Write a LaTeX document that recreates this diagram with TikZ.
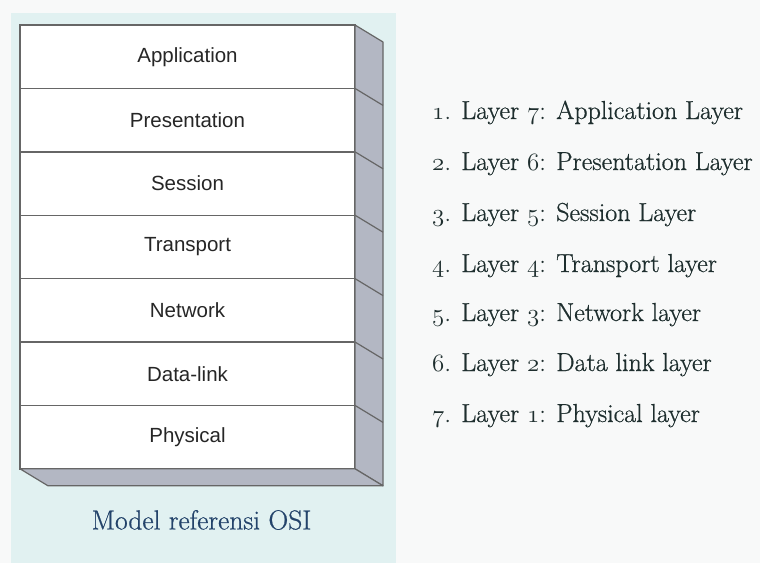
\documentclass[tikz,border=0pt]{standalone}
\usepackage{fontspec}
\newfontfamily\boxfont{Liberation Sans}
\newfontfamily\listfont{Latin Modern Roman}[FakeBold=0.7]
\usetikzlibrary{positioning,calc}
\definecolor{pagebg}{HTML}{F8F9F9}
\definecolor{panelbg}{HTML}{E1F1F1}
\definecolor{sideface}{HTML}{B3B7C3}
\definecolor{edgegray}{HTML}{666666}
\definecolor{captionblue}{HTML}{23436A}
\definecolor{listtext}{HTML}{1E2E2E}
\newcommand\osn[1]{{\usefont{OML}{lmm}{m}{it}#1}}

\begin{document}
\begin{tikzpicture}[
    x=1pt, y=1pt,
    layerbox/.style={
        draw=edgegray, % grey frame round each layer
        line width=1.4pt,
        fill=white,
        minimum width=335pt,
        minimum height=63.4pt,
        inner sep=0pt, outer sep=0pt,
        text=black!85,
        font=\boxfont\fontsize{20.5}{24}\selectfont
    },
    listitem/.style={
        anchor=base west,
        inner sep=0pt,
        text=listtext,
        font=\listfont\fontsize{26}{30}\selectfont
    },
    depth/.style={fill=sideface, draw=edgegray, line width=1.2pt, line join=round}
]
% background and panel
\fill[pagebg] (0,0) rectangle (760,-563);
\fill[panelbg] (11,-13) rectangle (396,-563);

% the stack of layers
\node[layerbox] (app) at (187.5,-56.7) {Application};
\node[layerbox, below=0pt of app] (pre) {Presentation};
\node[layerbox, below=0pt of pre] (ses) {Session};
\node[layerbox, below=0pt of ses] (tra) {Transport};
\node[layerbox, below=0pt of tra] (net) {Network};
\node[layerbox, below=0pt of net] (dat) {Data-link};
\node[layerbox, below=0pt of dat] (phy) {Physical};

% side and bottom faces
\draw[depth] (app.north east) -- ++(28,-17) -- ($(phy.south east)+(28,-17)$)
    -- (phy.south east) -- cycle;
\draw[depth] (phy.south west) -- ++(28,-17) -- ($(phy.south east)+(28,-17)$)
    -- (phy.south east) -- cycle;
\foreach \n in {app,pre,ses,tra,net,dat}
    \draw[edgegray, line width=1.2pt] (\n.south east) -- ++(28,-17);

\node[text=captionblue, font=\listfont\fontsize{27.5}{31}\selectfont] (caption) at (201.5,-520) {Model referensi OSI};

% list on the right
\node[listitem] (item1) at (432,-119) {\osn{1}. Layer \osn{7}: Application Layer};
\node[listitem] (item2) at (432,-170) {\osn{2}. Layer \osn{6}: Presentation Layer};
\node[listitem] (item3) at (432,-221) {\osn{3}. Layer \osn{5}: Session Layer};
\node[listitem] (item4) at (432,-272) {\osn{4}. Layer \osn{4}: Transport layer};
\node[listitem] (item5) at (432,-321) {\osn{5}. Layer \osn{3}: Network layer};
\node[listitem] (item6) at (432,-371) {\osn{6}. Layer \osn{2}: Data link layer};
\node[listitem] (item7) at (432,-422) {\osn{7}. Layer \osn{1}: Physical layer};
\end{tikzpicture}
\end{document}
